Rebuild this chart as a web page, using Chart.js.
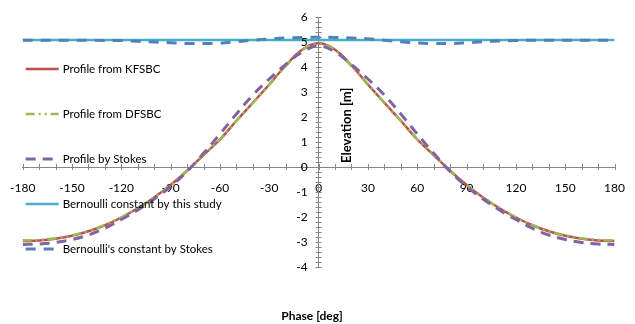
<!DOCTYPE html>
<html>
<head>
<meta charset="utf-8">
<script src="https://cdn.jsdelivr.net/npm/chart.js@4.4.0/dist/chart.umd.min.js"></script>
<style>
  html, body { margin: 0; padding: 0; background: #fff; }
  #wrap { width: 635px; height: 324px; }
</style>
</head>
<body>
<div id="wrap"><canvas id="chart" width="635" height="324"></canvas></div>
<script>
// Phase points (deg)
const phase = [-180, -170, -160, -150, -140, -130, -120, -110, -100, -90, -80, -70, -60, -50, -40, -30, -20, -10,
    0, 10, 20, 30, 40, 50, 60, 70, 80, 90, 100, 110, 120, 130, 140, 150, 160, 170, 180];

// Surface profiles (m)
const profileKFSBC = [-2.96, -2.94, -2.87, -2.75, -2.57, -2.33, -2.02, -1.65, -1.22, -0.72, -0.15, 0.48, 1.10, 1.85, 2.57, 3.30, 4.06, 4.69,
    4.95, 4.69, 4.06, 3.30, 2.57, 1.85, 1.10, 0.48, -0.15, -0.72, -1.22, -1.65, -2.02, -2.33, -2.57, -2.75, -2.87, -2.94, -2.96];
const profileDFSBC = [-2.93, -2.92, -2.85, -2.73, -2.56, -2.32, -2.01, -1.64, -1.21, -0.71, -0.14, 0.49, 1.11, 1.85, 2.56, 3.29, 4.04, 4.67,
    4.93, 4.67, 4.04, 3.29, 2.56, 1.85, 1.11, 0.49, -0.14, -0.71, -1.21, -1.64, -2.01, -2.32, -2.56, -2.73, -2.85, -2.92, -2.93];
const profileStokes = [-3.10, -3.08, -3.02, -2.90, -2.72, -2.45, -2.10, -1.72, -1.28, -0.78, -0.18, 0.55, 1.32, 2.12, 2.88, 3.52, 4.10, 4.60,
    4.84, 4.60, 4.10, 3.52, 2.88, 2.12, 1.32, 0.55, -0.18, -0.78, -1.28, -1.72, -2.10, -2.45, -2.72, -2.90, -3.02, -3.08, -3.10];

// Bernoulli constants
const bernoulliPhase = [-180, 180];
const bernoulliStudy = [5.08, 5.08];
const bernoulliStokes = [5.07, 5.07, 5.07, 5.07, 5.07, 5.06, 5.06, 5.03, 5.00, 4.97, 4.94, 4.94, 4.95, 5.01, 5.07, 5.12, 5.16, 5.18,
    5.19, 5.18, 5.16, 5.13, 5.07, 5.01, 4.96, 4.94, 4.94, 4.97, 5.01, 5.04, 5.06, 5.07, 5.07, 5.07, 5.07, 5.07, 5.07];

const xTicks = { min: -180, max: 180, step: 10, labelEvery: 30 };
const yTicks = { min: -4, max: 6, step: 0.2 };

const FONT = 'Lato, "Liberation Sans", sans-serif';

function pts(xs, ys) {
    return xs.map((x, i) => ({ x: x, y: ys[i] }));
}

function isWhole(v) {
    return Math.abs(v - Math.round(v)) < 1e-6;
}

// Cross-style tick marks on both sides of each axis, plus y labels left of the centre axis
const crossTicks = {
    id: 'crossTicks',
    afterDraw(chart) {
        const ctx = chart.ctx;
        const xs = chart.scales.x, ys = chart.scales.y;
        const x0 = xs.getPixelForValue(0), y0 = ys.getPixelForValue(0);
        ctx.save();
        ctx.strokeStyle = '#868686';
        ctx.lineWidth = 1;
        ctx.beginPath();
        xs.ticks.forEach(t => {
            const px = Math.round(xs.getPixelForValue(t.value)) + 0.5;
            ctx.moveTo(px, y0 - 3);
            ctx.lineTo(px, y0 + 3);
        });
        ys.ticks.forEach(t => {
            const py = Math.round(ys.getPixelForValue(t.value)) + 0.5;
            ctx.moveTo(x0 - 3, py);
            ctx.lineTo(x0 + 3, py);
        });
        ctx.stroke();

        ctx.font = '12px ' + FONT;
        ctx.fillStyle = '#000';
        ctx.textAlign = 'right';
        ctx.textBaseline = 'middle';
        ys.ticks.forEach(t => {
            if (isWhole(t.value)) {
                ctx.fillText(String(Math.round(t.value)), x0 - 11, ys.getPixelForValue(t.value));
            }
        });
        ctx.restore();
    }
};

// Legend placed inside the plot, left side
const insideLegend = {
    id: 'insideLegend',
    afterDraw(chart) {
        const ctx = chart.ctx;
        const area = chart.chartArea;
        const startY = area.top + 52;
        const gap = 45;
        ctx.save();
        ctx.font = '11.5px ' + FONT;
        ctx.textBaseline = 'middle';
        ctx.textAlign = 'left';
        chart.data.datasets.forEach((ds, i) => {
            const y = startY + i * gap;
            const x1 = area.left + 3, x2 = area.left + 36;
            ctx.strokeStyle = ds.borderColor;
            ctx.lineWidth = ds.borderWidth;
            ctx.setLineDash(ds.borderDash || []);
            ctx.lineCap = 'butt';
            ctx.beginPath();
            ctx.moveTo(x1, y);
            ctx.lineTo(x2, y);
            ctx.stroke();
            ctx.setLineDash([]);
            ctx.fillStyle = '#000';
            ctx.fillText(ds.label, x2 + 4, y);
        });
        ctx.restore();
    }
};

// Axis titles
const axisTitles = {
    id: 'axisTitles',
    afterDraw(chart) {
        const ctx = chart.ctx;
        const xs = chart.scales.x, ys = chart.scales.y;
        ctx.save();
        ctx.font = 'bold 12px ' + FONT;
        ctx.fillStyle = '#000';
        ctx.textAlign = 'center';
        ctx.textBaseline = 'middle';
        ctx.fillText('Phase [deg]', xs.getPixelForValue(-4), 316);
        ctx.font = 'bold 13px ' + FONT;
        ctx.translate(xs.getPixelForValue(0) + 28, ys.getPixelForValue(1.67));
        ctx.rotate(-Math.PI / 2);
        ctx.fillText('Elevation [m]', 0, 0);
        ctx.restore();
    }
};

new Chart(document.getElementById('chart'), {
    type: 'line',
    data: {
        datasets: [
            {
                label: 'Profile from KFSBC',
                data: pts(phase, profileKFSBC),
                borderColor: '#C0504D',
                borderWidth: 2.5,
                order: 5
            },
            {
                label: 'Profile from DFSBC',
                data: pts(phase, profileDFSBC),
                borderColor: '#9BBB59',
                borderWidth: 2.5,
                borderDash: [9, 4, 2, 4, 2, 4],
                order: 4
            },
            {
                label: 'Profile by Stokes',
                data: pts(phase, profileStokes),
                borderColor: '#8064A2',
                borderWidth: 3,
                borderDash: [10, 7],
                order: 3
            },
            {
                label: 'Bernoulli constant by this study',
                data: pts(bernoulliPhase, bernoulliStudy),
                borderColor: '#4BACC6',
                borderWidth: 2.5,
                order: 2
            },
            {
                label: "Bernoulli's constant by Stokes",
                data: pts(phase, bernoulliStokes),
                borderColor: '#4F81BD',
                borderWidth: 3,
                borderDash: [10, 8],
                order: 1
            }
        ]
    },
    options: {
        responsive: false,
        animation: false,
        layout: { padding: { left: 17, right: 10, top: 17, bottom: 57 } },
        elements: {
            point: { radius: 0 },
            line: { tension: 0.4, fill: false }
        },
        plugins: {
            legend: { display: false },
            tooltip: { enabled: false }
        },
        scales: {
            x: {
                type: 'linear',
                position: { y: 0 },
                min: xTicks.min,
                max: xTicks.max,
                grid: { display: false, tickLength: 4 },
                border: { display: true, color: '#868686', width: 1 },
                ticks: {
                    stepSize: xTicks.step,
                    autoSkip: false,
                    maxRotation: 0,
                    padding: 10,
                    color: '#000',
                    font: { family: FONT, size: 12 },
                    callback: v => (v % xTicks.labelEvery === 0 ? String(v) : '')
                }
            },
            y: {
                type: 'linear',
                position: { x: 0 },
                min: yTicks.min,
                max: yTicks.max,
                grid: { display: false, tickLength: 4 },
                border: { display: true, color: '#868686', width: 1 },
                ticks: {
                    stepSize: yTicks.step,
                    autoSkip: false,
                    padding: 8,
                    font: { family: FONT, size: 12 },
                    callback: () => ''
                }
            }
        }
    },
    plugins: [crossTicks, insideLegend, axisTitles]
});
</script>
</body>
</html>
